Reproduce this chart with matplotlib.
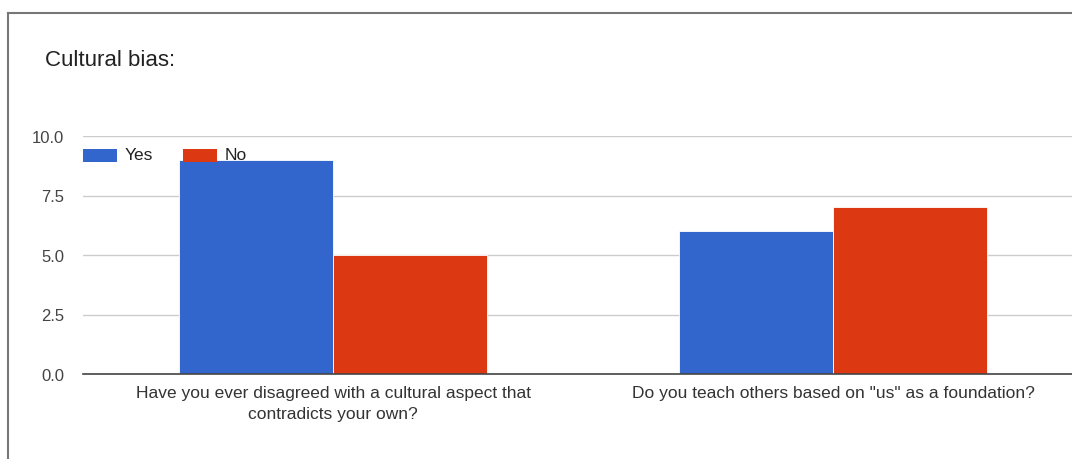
import matplotlib.pyplot as plt
import numpy as np
from matplotlib.lines import Line2D
from matplotlib.patches import Patch

plt.rcParams['font.family'] = ['Liberation Sans', 'DejaVu Sans']

# Survey answers
questions = ['Have you ever disagreed with a cultural aspect that\ncontradicts your own?',
             'Do you teach others based on "us" as a foundation?']
yes_counts = [9, 6]
no_counts = [5, 7]
series = ['Yes', 'No']
colors = ['#3366CC', '#DC3912']

fig = plt.figure(figsize=(10.72, 4.6), dpi=100)
W, H = 1072, 460

# axes placed in pixel terms; right side runs off the canvas
ax = fig.add_axes([83 / W, 1 - 375 / H, 1000 / W, (375 - 137) / H])
ax.set_xlim(-0.5, 1.5)
ax.set_ylim(0, 10)

x = np.arange(len(questions))
bw = 0.308
ax.bar(x - bw / 2, yes_counts, bw, color=colors[0], edgecolor='white', linewidth=0.6, zorder=3)
ax.bar(x + bw / 2, no_counts, bw, color=colors[1], edgecolor='white', linewidth=0.6, zorder=3)

ax.set_yticks([0, 2.5, 5, 7.5, 10])
ax.set_yticklabels(['0.0', '2.5', '5.0', '7.5', '10.0'])
ax.set_xticks(x)
ax.set_xticklabels(questions, linespacing=1.45)
ax.tick_params(axis='y', length=0, pad=13.5, labelsize=12, labelcolor='#444444')
ax.tick_params(axis='x', length=0, pad=8, labelsize=12.5, labelcolor='#333333')

ax.grid(axis='y', color='#cccccc', linewidth=1, zorder=0)
for s in ['top', 'right', 'left']:
    ax.spines[s].set_visible(False)
ax.spines['bottom'].set_color('#444444')
ax.spines['bottom'].set_linewidth(1.2)
ax.spines['bottom'].set_zorder(4)

handles = [Patch(facecolor=c, edgecolor='none') for c in colors]
fig.legend(handles, series, loc='upper left', bbox_to_anchor=(83 / W, 1 - 147 / H),
           ncol=2, frameon=False, fontsize=12.5, handlelength=1.95, handleheight=0.8,
           handletextpad=0.46, columnspacing=1.72, borderpad=0, borderaxespad=0,
           labelcolor='#222222')
# nudge the swatches down so they sit level with the text
for h in fig.legends[0].legend_handles:
    h.set_y(h.get_y() - 2)

fig.text(45 / W, 1 - 61 / H, 'Cultural bias:', fontsize=16, color='#222222', va='center', ha='left')

# card outline
fig.add_artist(Line2D([8 / W, 1], [1 - 14 / H, 1 - 14 / H], color='#777777', linewidth=1.5,
                      transform=fig.transFigure))
fig.add_artist(Line2D([8 / W, 8 / W], [1 - 14 / H, 0], color='#777777', linewidth=1.5,
                      transform=fig.transFigure))

fig.savefig('out.png', dpi=100)
